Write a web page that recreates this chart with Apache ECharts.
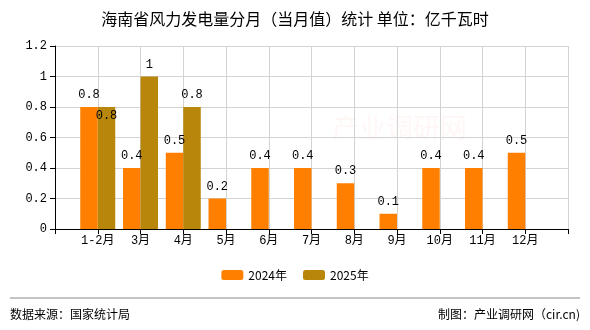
<!DOCTYPE html>
<html>
<head>
<meta charset="utf-8">
<script src="https://cdn.jsdelivr.net/npm/echarts@6/dist/echarts.min.js"></script>
<style>html,body{margin:0;padding:0;background:#fff;}#c{width:590px;height:330px;}</style>
</head>
<body>
<div id="c"></div>
<script>
var categories = ['', '1-2月', '3月', '4月', '5月', '6月', '7月', '8月', '9月', '10月', '11月', '12月', ''];
var values2024 = [null, 0.8, 0.4, 0.5, 0.2, 0.4, 0.4, 0.3, 0.1, 0.4, 0.4, 0.5, null];
var values2025 = [null, 0.8, 1, 0.8, null, null, null, null, null, null, null, null, null];
var yTicks = [0, 0.2, 0.4, 0.6, 0.8, 1, 1.2];

var mono = '"Liberation Mono", "Noto Sans CJK SC", monospace';
var cjk = '"Noto Sans CJK SC", sans-serif';

var chart = echarts.init(document.getElementById('c'), null, {renderer: 'canvas'});

var data2025 = values2025.map(function (v, i) {
  if (i === 1) return {value: v, label: {position: 'insideTop', distance: 3}};
  return v;
});

chart.setOption({
  backgroundColor: '#fff',
  animation: false,
  title: {
    text: '海南省风力发电量分月（当月值）统计 单位：亿千瓦时',
    left: 'center',
    top: 6,
    textStyle: {fontFamily: cjk, fontSize: 16, fontWeight: 'normal', color: '#000'}
  },
  legend: {
    bottom: 44,
    left: 'center',
    itemWidth: 22,
    itemHeight: 10,
    itemGap: 16,
    textStyle: {fontFamily: cjk, fontSize: 12, color: '#000'},
    data: ['2024年', '2025年']
  },
  grid: {left: 55, right: 22, top: 46, bottom: 101, containLabel: false},
  xAxis: {
    type: 'category',
    data: categories,
    boundaryGap: false,
    axisLine: {lineStyle: {color: '#000'}},
    axisTick: {show: true, length: 5, lineStyle: {color: '#000'}},
    axisLabel: {interval: 0, fontFamily: mono, fontSize: 12, color: '#000', margin: 6},
    splitLine: {show: true, lineStyle: {color: '#d3d3d3'}}
  },
  yAxis: {
    type: 'value',
    min: 0,
    max: 1.2,
    interval: 0.2,
    axisLine: {show: true, lineStyle: {color: '#000'}},
    axisTick: {show: true, length: 5, lineStyle: {color: '#000'}},
    axisLabel: {fontFamily: mono, fontSize: 12, color: '#000', margin: 8,
      formatter: function (v) { return String(Math.round(v * 10) / 10); }},
    splitLine: {show: true, lineStyle: {color: '#d3d3d3'}}
  },
  graphic: [
    {type: 'text', left: 332, top: 114, z: 0, silent: true,
      style: {text: '产业调研网', fontFamily: cjk, fontSize: 27, fill: 'rgba(255,120,100,0.06)'}},
    {type: 'line', shape: {x1: 10, y1: 298, x2: 580, y2: 298}, style: {stroke: '#888', lineWidth: 1}},
    {type: 'text', left: 10, top: 308, style: {text: '数据来源：国家统计局', fontFamily: cjk, fontSize: 12, fill: '#000'}},
    {type: 'text', right: 10, top: 308, style: {text: '制图：产业调研网（cir.cn)', fontFamily: cjk, fontSize: 12, fill: '#000'}}
  ],
  series: [
    {
      name: '2024年', type: 'bar', data: values2024, barWidth: 17.5, barGap: '0%',
      itemStyle: {color: '#FF8000'},
      label: {show: true, position: 'top', distance: 6, fontFamily: mono, fontSize: 12, color: '#000'}
    },
    {
      name: '2025年', type: 'bar', data: data2025, barWidth: 17.5, barGap: '0%',
      itemStyle: {color: '#B8860B'},
      label: {show: true, position: 'top', distance: 6, fontFamily: mono, fontSize: 12, color: '#000'}
    }
  ]
});
</script>
</body>
</html>
